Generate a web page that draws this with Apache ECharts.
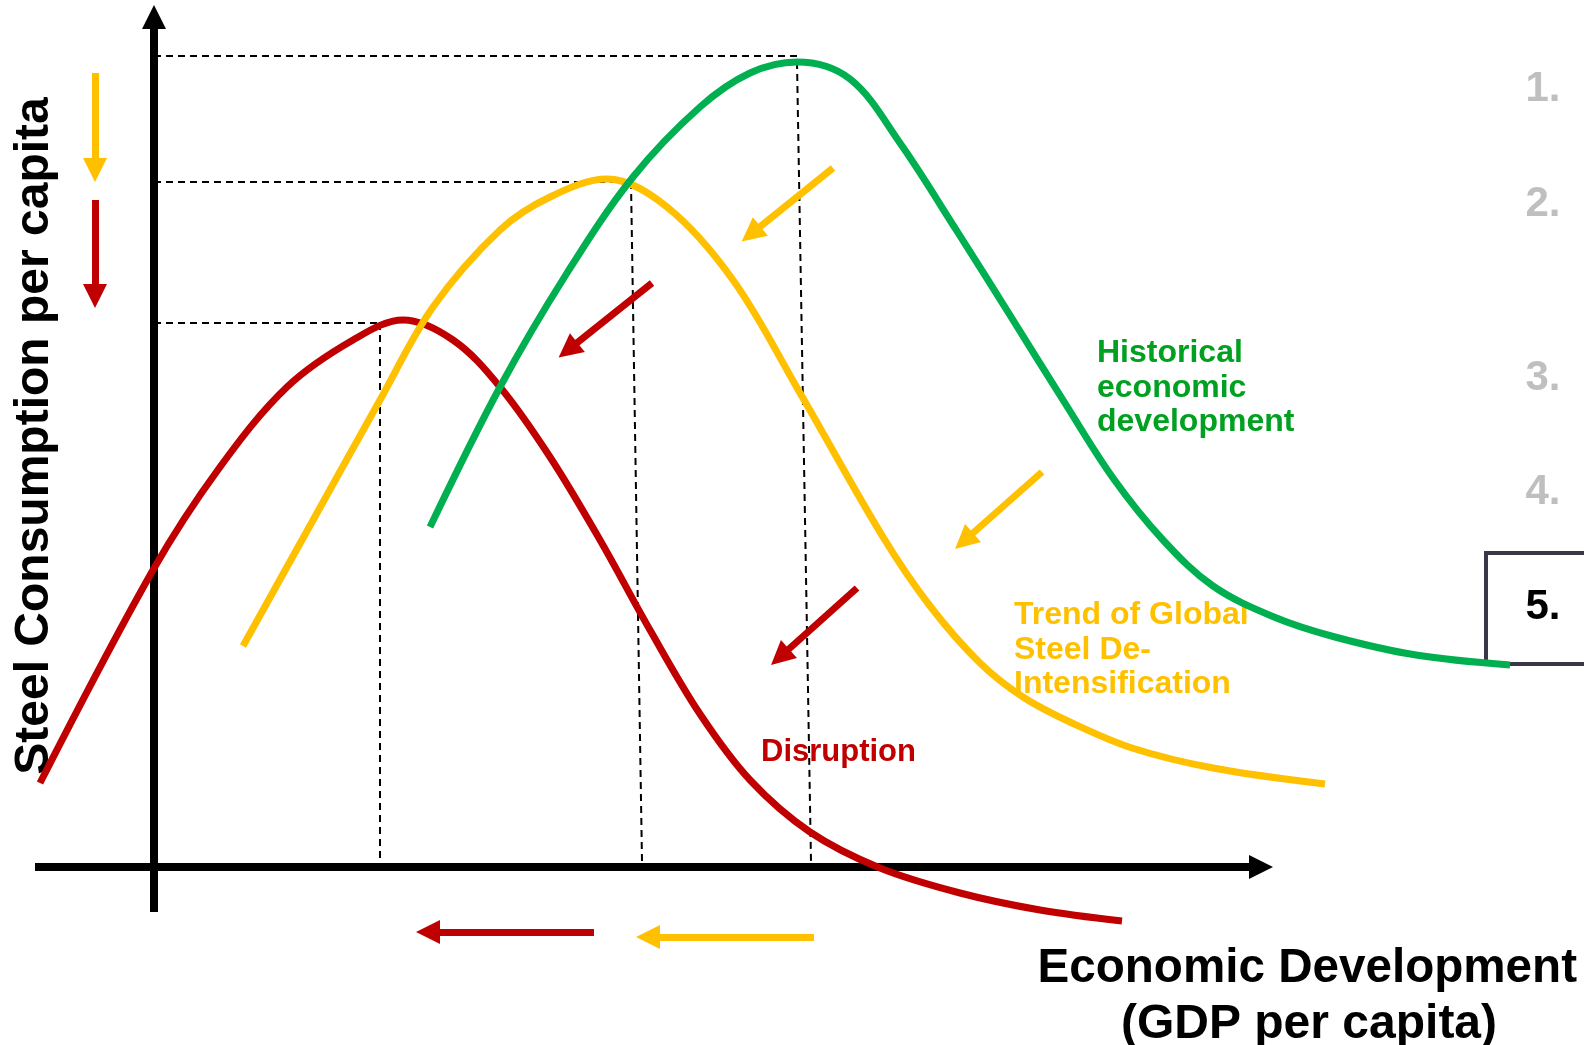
<!DOCTYPE html>
<html><head><meta charset="utf-8">
<style>html,body{margin:0;padding:0;background:#fff;overflow:hidden}#c{width:1584px;height:1045px}</style>
<script src="https://cdn.jsdelivr.net/npm/echarts@6/dist/echarts.min.js"></script>
</head><body><div id="c"></div>
<script>
// Conceptual units: x = economic development (GDP per capita), y = steel consumption per capita
const historical = [[27.6,34.0],[34.6,48.0],[41.3,59.4],[47.9,69.0],[54.6,76.0],[59.6,79.4],[64.3,80.5],[69.6,78.8],[74.6,72.4],[80.1,63.9],[85.9,54.7],[90.9,46.7],[95.9,38.9],[100.9,32.7],[105.9,28.1],[112.0,25.0],[118.1,23.0],[126.2,21.2],[135.6,20.2]];
const deIntensification = [[8.9,22.1],[15.8,34.5],[22.6,46.7],[27.9,56.0],[34.6,63.7],[39.6,67.0],[45.3,68.8],[51.3,66.0],[57.9,58.7],[64.6,47.4],[72.9,33.0],[77.6,26.1],[82.6,20.4],[86.9,17.0],[91.8,14.4],[97.8,11.9],[105.9,9.9],[117.1,8.3]];
const disruption = [[-11.4,8.4],[-0.1,29.7],[6.6,40.0],[13.3,48.0],[19.9,52.7],[24.9,54.7],[29.9,52.7],[34.6,48.0],[39.6,41.0],[44.6,32.7],[49.6,23.7],[54.6,15.3],[59.6,8.7],[65.6,3.5],[72.6,-0.1],[80.6,-2.6],[88.6,-4.3],[96.8,-5.4]];
const peakGuides = [
  [[0,81.1],[64.3,81.1]], [[64.3,80.5],[65.7,0.6]],
  [[0,68.5],[47.7,68.5]], [[47.7,68.5],[48.8,0.6]],
  [[0,54.4],[22.6,54.4]], [[22.6,54.4],[22.6,0.6]]
];
const axisArrows = [[[0,-4.5],[0,85.0]], [[-11.9,0],[110.7,0]]];
const yellowArrows = [[[-5.9,79.4],[-5.9,69.7]], [[67.9,69.9],[59.7,63.3]], [[88.8,39.5],[81.0,32.6]], [[66.0,-7.0],[49.4,-7.0]]];
const redArrows = [[[-5.9,66.7],[-5.9,57.1]], [[49.8,58.4],[41.4,51.7]], [[70.3,27.9],[62.6,21.0]], [[44.0,-6.5],[27.4,-6.5]]];
const stepLabels = ['1.','2.','3.','4.','5.'];

const GREEN='#00B050', YELLOW='#FFC000', RED='#C00000';
const FONT='"Liberation Sans", Arial, sans-serif';
const chart = echarts.init(document.getElementById('c'));

function curve(name, data, color){
  return {type:'line', name, data, smooth:0.35, smoothMonotone:null, showSymbol:false, symbol:'none', z:5,
    lineStyle:{color, width:7, cap:'butt'}};
}
function arrows(data, color, width, size, z){
  return {type:'lines', coordinateSystem:'cartesian2d', z:z||6,
    data: data.map(c=>({coords:c})),
    symbol:['none','triangle'], symbolSize:size,
    lineStyle:{color, width, opacity:1, curveness:0}};
}
const stepY = [89, 204, 378, 492, 607];
const graphic = [
  {type:'text', x:35, y:436, rotation:Math.PI/2, style:{text:'Steel Consumption per capita', font:'bold 48px '+FONT, fill:'#000', align:'center', verticalAlign:'middle'}},
  {type:'text', x:1577, y:969, style:{text:'Economic Development', font:'bold 47.6px '+FONT, fill:'#000', align:'right', verticalAlign:'middle'}},
  {type:'text', x:1309, y:1025, style:{text:'(GDP per capita)', font:'bold 48px '+FONT, fill:'#000', align:'center', verticalAlign:'middle'}},
  {type:'text', x:1097, y:388, style:{text:'Historical\neconomic\ndevelopment', font:'bold 32px '+FONT, lineHeight:34.5, fill:'#00A020', align:'left', verticalAlign:'middle'}},
  {type:'text', x:1014, y:650, style:{text:'Trend of Global\nSteel De-\nIntensification', font:'bold 32px '+FONT, lineHeight:34.5, fill:YELLOW, align:'left', verticalAlign:'middle'}},
  {type:'text', x:761, y:752, style:{text:'Disruption', font:'bold 31px '+FONT, fill:RED, align:'left', verticalAlign:'middle'}},
  {type:'rect', shape:{x:1486,y:553,width:130,height:111}, style:{fill:'none', stroke:'#383848', lineWidth:4}}
];
stepLabels.forEach((t,i)=>graphic.push({type:'text', x:1543, y:stepY[i], style:{text:t, font:'bold 42px '+FONT, fill: i===4?'#000':'#BFBFBF', align:'center', verticalAlign:'middle'}}));

chart.setOption({
  animation:false,
  backgroundColor:'#fff',
  grid:{left:0,right:0,top:0,bottom:0},
  xAxis:{type:'value', min:-15.4, max:143, show:false},
  yAxis:{type:'value', min:-17.8, max:86.7, show:false},
  series:[
    {type:'lines', coordinateSystem:'cartesian2d', z:2, data:peakGuides.map(c=>({coords:c})),
      lineStyle:{color:'#000', width:2, type:[7,5], opacity:1}},
    arrows(axisArrows, '#000', 8, [24,24], 3),
    curve('Disruption', disruption, RED),
    curve('Trend of Global Steel De-Intensification', deIntensification, YELLOW),
    curve('Historical economic development', historical, GREEN),
    arrows(yellowArrows, YELLOW, 7, [24,24]),
    arrows(redArrows, RED, 7, [24,24])
  ],
  graphic
});
</script></body></html>
